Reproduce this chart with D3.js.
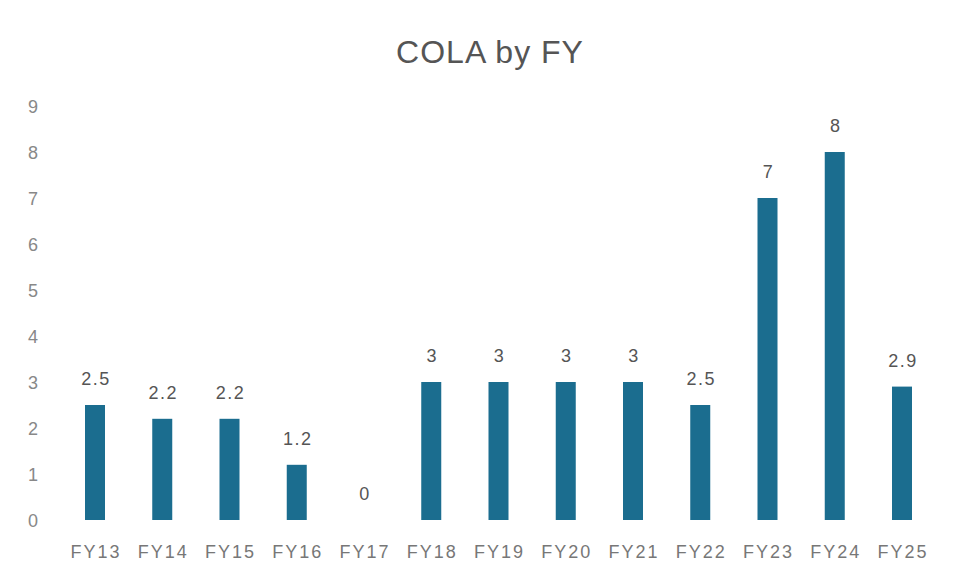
<!DOCTYPE html>
<html>
<head>
<meta charset="utf-8">
<script src="https://cdn.jsdelivr.net/npm/d3@7"></script>
<style>
  body { margin: 0; background: #fff; }
  svg { display: block; font-family: "Liberation Sans", Arial, sans-serif; }
</style>
</head>
<body>
<script>
var categories = ['FY13', 'FY14', 'FY15', 'FY16', 'FY17', 'FY18', 'FY19', 'FY20', 'FY21', 'FY22', 'FY23', 'FY24', 'FY25'];
var cola = [2.5, 2.2, 2.2, 1.2, 0, 3, 3, 3, 3, 2.5, 7, 8, 2.9];
var yTicks = [0, 1, 2, 3, 4, 5, 6, 7, 8, 9];

var width = 953, height = 569;
var barWidth = 20;

var svg = d3.select('body').append('svg')
  .attr('width', width)
  .attr('height', height);

svg.append('rect').attr('width', width).attr('height', height).attr('fill', '#fff');

var x = d3.scalePoint()
  .domain(categories)
  .range([95, 902]);

var y = d3.scaleLinear()
  .domain([0, 9])
  .range([520, 106]);

// title
svg.append('text')
  .attr('x', 490)
  .attr('y', 63)
  .attr('text-anchor', 'middle')
  .attr('font-size', 32)
  .attr('letter-spacing', 1)
  .attr('fill', '#555')
  .text('COLA by FY');

// y tick labels (no axis line)
svg.selectAll('.ytick')
  .data(yTicks)
  .enter()
  .append('text')
  .attr('class', 'ytick')
  .attr('x', 33)
  .attr('y', function (d) { return y(d) + 7; })
  .attr('text-anchor', 'middle')
  .attr('font-size', 18)
  .attr('fill', '#888')
  .text(function (d) { return d; });

// bars
svg.selectAll('.bar')
  .data(cola)
  .enter()
  .append('rect')
  .attr('class', 'bar')
  .attr('x', function (d, i) { return x(categories[i]) - barWidth / 2; })
  .attr('y', function (d) { return y(d); })
  .attr('width', barWidth)
  .attr('height', function (d) { return y(0) - y(d); })
  .attr('fill', '#1b6d8f');

// value labels
svg.selectAll('.val')
  .data(cola)
  .enter()
  .append('text')
  .attr('class', 'val')
  .attr('x', function (d, i) { return x(categories[i]) + 1; })
  .attr('y', function (d) { return y(d) - 20; })
  .attr('text-anchor', 'middle')
  .attr('font-size', 18)
  .attr('letter-spacing', 1.5)
  .attr('fill', '#555')
  .text(function (d) { return d; });

// category labels
svg.selectAll('.cat')
  .data(categories)
  .enter()
  .append('text')
  .attr('class', 'cat')
  .attr('x', function (d) { return x(d) + 1; })
  .attr('y', 558)
  .attr('text-anchor', 'middle')
  .attr('font-size', 18)
  .attr('letter-spacing', 2)
  .attr('fill', '#777')
  .text(function (d) { return d; });
</script>
</body>
</html>
